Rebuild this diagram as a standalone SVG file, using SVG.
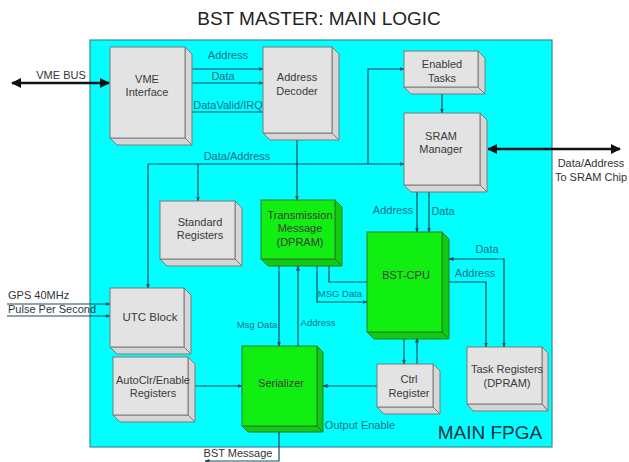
<svg xmlns="http://www.w3.org/2000/svg" width="629" height="462" viewBox="0 0 629 462">
<defs>
<marker id="ah" viewBox="0 0 10 10" refX="9" refY="5" markerWidth="5" markerHeight="5" orient="auto-start-reverse" markerUnits="userSpaceOnUse"><path d="M0,1 L10,5 L0,9 z" fill="#1a4a58"/></marker>
<marker id="big" viewBox="0 0 10 10" refX="9" refY="5" markerWidth="12" markerHeight="10" orient="auto-start-reverse" markerUnits="userSpaceOnUse"><path d="M0,0 L10,5 L0,10 z" fill="#111"/></marker>
</defs>
<style>
text{font-family:"Liberation Sans",Arial,sans-serif;text-anchor:middle}
.title{font-size:19px;fill:#222}
.bt{font-size:11px;fill:#3a3a3a}
.lb{font-size:11px;fill:#1f6b88}
.sm{font-size:9.5px;fill:#1f6b88}
.ot{font-size:11px;fill:#333}
.gf{fill:#e3e3e3;stroke:#7a7a7a;stroke-width:1}
.gs{fill:#d6d6d6;stroke:#7a7a7a;stroke-width:1}
.nf{fill:#11ee11;stroke:#2a7a2a;stroke-width:1}
.ns{fill:#0fcc0f;stroke:#2a7a2a;stroke-width:1}
.c{fill:none;stroke:#1a4a58;stroke-width:1.2}
.ce{marker-end:url(#ah)}
.cb{marker-start:url(#ah);marker-end:url(#ah)}
.thick{fill:none;stroke:#111;stroke-width:2.5;marker-start:url(#big);marker-end:url(#big)}
</style>
<rect width="629" height="462" fill="#ffffff"/>
<text class="title" x="319" y="25">BST MASTER: MAIN LOGIC</text>
<rect id="fpga" x="90" y="40" width="462" height="407" fill="#00ffff" stroke="#3a8a9a" stroke-width="1.2"/>
<text x="490" y="439" style="font-size:19px;fill:#1a3040">MAIN FPGA</text>

<g id="connectors">
<line class="thick" x1="12" y1="83" x2="109" y2="83"/>
<text class="ot" x="61" y="79">VME BUS</text>
<line class="c ce" x1="186" y1="69" x2="263" y2="69"/>
<text class="lb" x="228" y="59">Address</text>
<line class="c cb" x1="187" y1="83" x2="263" y2="83"/>
<text class="lb" x="223" y="80">Data</text>
<line class="c ce" x1="263" y1="112" x2="187" y2="112"/>
<text class="lb" x="228" y="109">DataValid/IRQ</text>
<line class="c ce" x1="297" y1="140" x2="297" y2="200"/>
<path class="c ce" d="M148,164 V288"/>
<path class="c ce" d="M148,164 H404"/>
<path class="c ce" d="M198,164 V201"/>
<path class="c ce" d="M368,164 V69 H404"/>
<text class="lb" x="237" y="160">Data/Address</text>
<line class="c ce" x1="442" y1="94" x2="442" y2="113"/>
<line class="thick" x1="488" y1="149" x2="620" y2="149"/>
<text class="ot" x="591" y="167">Data/Address</text>
<text class="ot" x="591" y="181">To SRAM Chip</text>
<line class="c ce" x1="417" y1="192" x2="417" y2="232"/>
<line class="c cb" x1="429" y1="187" x2="429" y2="232"/>
<text class="lb" x="393" y="214">Address</text>
<text class="lb" x="443" y="215">Data</text>
<path class="c cb" d="M449,259 H504 V347"/>
<text class="lb" x="487" y="253">Data</text>
<path class="c ce" d="M449,282 H486 V347"/>
<text class="lb" x="475" y="277">Address</text>
<path class="c ce" d="M367,282 H329 V260"/>
<path class="c ce" d="M317,266 V302 H367"/>
<text class="sm" x="340" y="297">MSG Data</text>
<line class="c ce" x1="279" y1="266" x2="279" y2="346"/>
<line class="c ce" x1="298" y1="346" x2="298" y2="266"/>
<text class="sm" x="257" y="328">Msg Data</text>
<text class="sm" x="318" y="326">Address</text>
<line class="c ce" x1="195" y1="386" x2="242" y2="386"/>
<line class="c ce" x1="377" y1="386" x2="323" y2="386"/>
<line class="c ce" x1="404" y1="338" x2="404" y2="364"/>
<line class="c ce" x1="417" y1="364" x2="417" y2="338"/>
<path class="c ce" d="M279,432 V461 H205"/>
<text class="ot" x="238" y="457">BST Message</text>
<text class="lb" x="360" y="429">Output Enable</text>
<line class="c ce" x1="7" y1="304" x2="110" y2="304"/>
<line class="c ce" x1="7" y1="316" x2="110" y2="316"/>
<text class="ot" x="8" y="299" style="text-anchor:start">GPS 40MHz</text>
<text class="ot" x="8" y="313" style="text-anchor:start">Pulse Per Second</text>
</g>

<g id="vme">
<polygon class="gs" points="185,47 192,54 192,145 185,138"/>
<polygon class="gs" points="110,138 185,138 192,145 117,145"/>
<rect class="gf" x="110" y="47" width="75" height="91"/>
<text class="bt" x="147" y="83">VME</text>
<text class="bt" x="147" y="96">Interface</text>
</g>
<g id="decoder">
<polygon class="gs" points="332,47 339,54 339,140 332,133"/>
<polygon class="gs" points="263,133 332,133 339,140 270,140"/>
<rect class="gf" x="263" y="47" width="69" height="86"/>
<text class="bt" x="297" y="81">Address</text>
<text class="bt" x="297" y="95">Decoder</text>
</g>
<g id="enabled">
<polygon class="gs" points="478,51 485,58 485,94 478,87"/>
<polygon class="gs" points="404,87 478,87 485,94 411,94"/>
<rect class="gf" x="404" y="51" width="74" height="36"/>
<text class="bt" x="442" y="68">Enabled</text>
<text class="bt" x="442" y="82">Tasks</text>
</g>
<g id="sram">
<polygon class="gs" points="480,113 487,120 487,192 480,185"/>
<polygon class="gs" points="404,185 480,185 487,192 411,192"/>
<rect class="gf" x="404" y="113" width="76" height="72"/>
<text class="bt" x="441" y="140">SRAM</text>
<text class="bt" x="441" y="153">Manager</text>
</g>
<g id="standard">
<polygon class="gs" points="235,201 242,208 242,266 235,259"/>
<polygon class="gs" points="160,259 235,259 242,266 167,266"/>
<rect class="gf" x="160" y="201" width="75" height="58"/>
<text class="bt" x="200" y="226">Standard</text>
<text class="bt" x="200" y="239">Registers</text>
</g>
<g id="transmission">
<polygon class="ns" points="335,200 342,207 342,266 335,259"/>
<polygon class="ns" points="261,259 335,259 342,266 268,266"/>
<rect class="nf" x="261" y="200" width="74" height="59"/>
<text class="bt" x="300" y="219">Transmission</text>
<text class="bt" x="300" y="232">Message</text>
<text class="bt" x="300" y="246">(DPRAM)</text>
</g>
<g id="bstcpu">
<polygon class="ns" points="442,232 449,239 449,339 442,332"/>
<polygon class="ns" points="367,332 442,332 449,339 374,339"/>
<rect class="nf" x="367" y="232" width="75" height="100"/>
<text class="bt" x="406" y="279">BST-CPU</text>
</g>
<g id="utc">
<polygon class="gs" points="184,288 191,295 191,354 184,347"/>
<polygon class="gs" points="110,347 184,347 191,354 117,354"/>
<rect class="gf" x="110" y="288" width="74" height="59"/>
<text class="bt" x="150" y="321" style="font-size:11.5px">UTC Block</text>
</g>
<g id="autoclr">
<polygon class="gs" points="188,357 195,364 195,422 188,415"/>
<polygon class="gs" points="113,415 188,415 195,422 120,422"/>
<rect class="gf" x="113" y="357" width="75" height="58"/>
<text class="bt" x="153" y="384">AutoClr/Enable</text>
<text class="bt" x="153" y="397">Registers</text>
</g>
<g id="serializer">
<polygon class="ns" points="317,346 323,352 323,432 317,426"/>
<polygon class="ns" points="242,426 317,426 323,432 248,432"/>
<rect class="nf" x="242" y="346" width="75" height="80"/>
<text class="bt" x="281" y="387">Serializer</text>
</g>
<g id="ctrl">
<polygon class="gs" points="433,364 440,371 440,414 433,407"/>
<polygon class="gs" points="377,407 433,407 440,414 384,414"/>
<rect class="gf" x="377" y="364" width="56" height="43"/>
<text class="bt" x="409" y="383">Ctrl</text>
<text class="bt" x="409" y="397">Register</text>
</g>
<g id="taskregs">
<polygon class="gs" points="542,347 548,353 548,411 542,404"/>
<polygon class="gs" points="467,404 542,404 548,411 473,411"/>
<rect class="gf" x="467" y="347" width="75" height="57"/>
<text class="bt" x="507" y="373">Task Registers</text>
<text class="bt" x="507" y="387">(DPRAM)</text>
</g>
</svg>
